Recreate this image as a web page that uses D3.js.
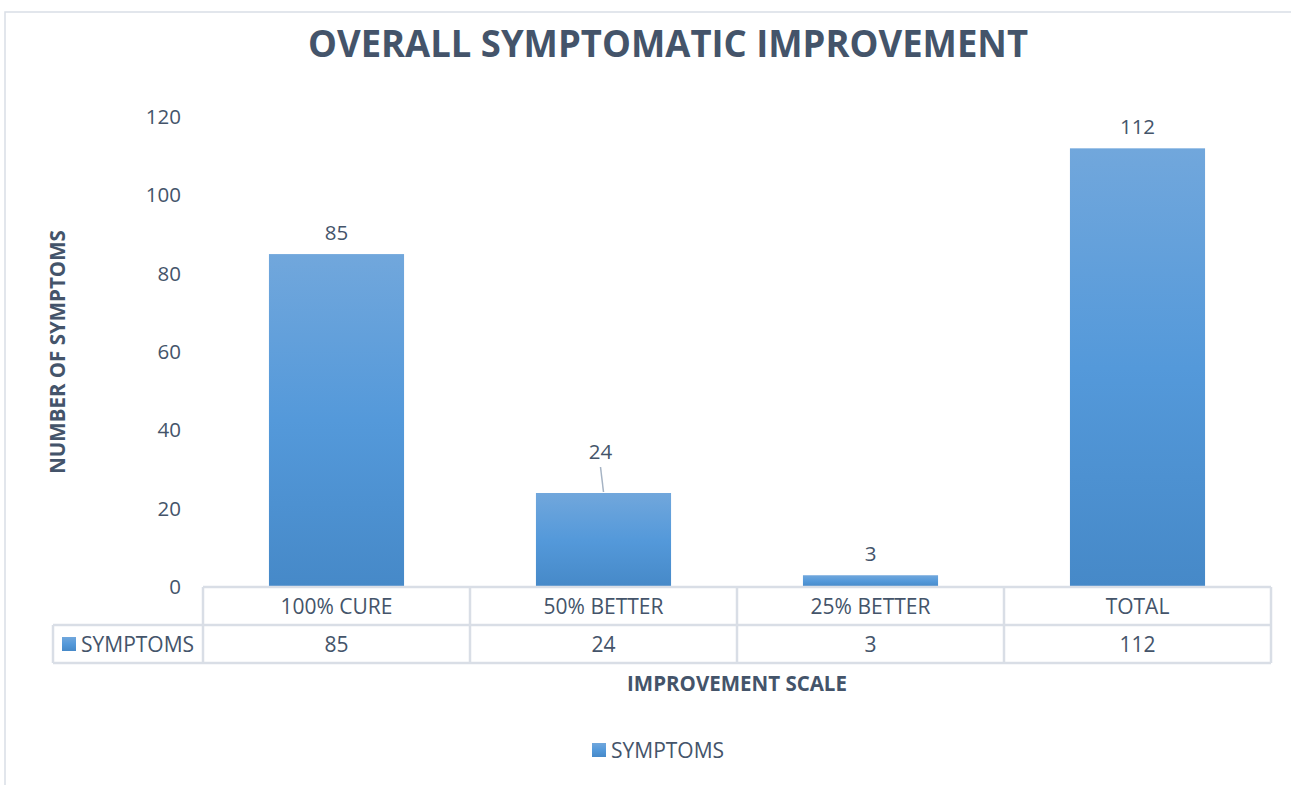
<!DOCTYPE html>
<html>
<head>
<meta charset="utf-8">
<script src="https://cdn.jsdelivr.net/npm/d3@7"></script>
<style>
  html, body { margin: 0; padding: 0; background: #fff; }
  svg text { font-family: "Open Sans", "Liberation Sans", sans-serif; fill: #44546a; }
</style>
</head>
<body>
<div class="container"></div>
<script>
const categories = ["100% CURE", "50% BETTER", "25% BETTER", "TOTAL"];
const symptoms = [85, 24, 3, 112];
const yTicks = [0, 20, 40, 60, 80, 100, 120];
const seriesName = "SYMPTOMS";
const chartTitle = "OVERALL SYMPTOMATIC IMPROVEMENT";
const xTitle = "IMPROVEMENT SCALE";
const yTitle = "NUMBER OF SYMPTOMS";

const w = 1291;
const h = 785;
const margin = { top: 117, left: 203, right: 20, bottom: 198 };
const width = w - margin.left - margin.right;
const height = h - margin.top - margin.bottom;
const rowH = 38;
const border = "#d9dee6";
const fs = 21;

const svg = d3.select(".container").append("svg")
  .attr("width", w)
  .attr("height", h);

const defs = svg.append("defs");
const grad = defs.append("linearGradient")
  .attr("id", "barGrad")
  .attr("x1", 0).attr("y1", 0).attr("x2", 0).attr("y2", 1);
grad.append("stop").attr("offset", "0%").attr("stop-color", "#71a7dc");
grad.append("stop").attr("offset", "50%").attr("stop-color", "#5499da");
grad.append("stop").attr("offset", "100%").attr("stop-color", "#4689c8");

// chart frame
svg.append("rect")
  .attr("x", 5).attr("y", 12)
  .attr("width", w + 10).attr("height", h + 10)
  .attr("fill", "none")
  .attr("stroke", border)
  .attr("stroke-width", 1.5);

svg.append("text")
  .attr("x", 668).attr("y", 57)
  .attr("text-anchor", "middle")
  .attr("font-size", 38)
  .attr("font-weight", 700)
  .attr("textLength", 720)
  .attr("lengthAdjust", "spacingAndGlyphs")
  .text(chartTitle);

const chart = svg.append("g")
  .attr("transform", `translate(${margin.left}, ${margin.top})`);

const x = d3.scaleBand()
  .domain(categories)
  .range([0, width])
  .paddingInner(0.494)
  .paddingOuter(0.247);

const xCol = d3.scaleBand()
  .domain(categories)
  .range([0, width]);

const y = d3.scaleLinear()
  .domain([0, 120])
  .range([height, 0]);

const yAxis = chart.append("g")
  .call(d3.axisLeft(y).tickValues(yTicks).tickSize(0).tickPadding(22));
yAxis.select(".domain").remove();
yAxis.selectAll("text")
  .attr("font-size", 20.5)
  .style("fill", "#44546a");

chart.selectAll("rect.bar")
  .data(symptoms)
  .enter().append("rect")
  .attr("class", "bar")
  .attr("x", (d, i) => x(categories[i]))
  .attr("y", d => y(d))
  .attr("width", x.bandwidth())
  .attr("height", d => height - y(d))
  .attr("fill", "url(#barGrad)");

// data labels (one lifted with a leader line)
const labelLift = { "50% BETTER": 20 };
symptoms.forEach((d, i) => {
  const cx = x(categories[i]) + x.bandwidth() / 2;
  const lift = labelLift[categories[i]] || 0;
  const ly = y(d) - 14 - lift;
  if (lift) {
    chart.append("line")
      .attr("x1", cx - 3).attr("y1", ly + 8)
      .attr("x2", cx).attr("y2", y(d) - 1)
      .attr("stroke", "#a5b3c4")
      .attr("stroke-width", 1.5);
  }
  chart.append("text")
    .attr("x", cx - (lift ? 3 : 0))
    .attr("y", ly)
    .attr("text-anchor", "middle")
    .attr("font-size", 20.5)
    .text(d);
});

// data table
const table = chart.append("g").attr("transform", `translate(0, ${height})`);
const keyLeft = -150;

table.append("line")
  .attr("x1", 0).attr("x2", width).attr("y1", 0).attr("y2", 0)
  .attr("stroke", border).attr("stroke-width", 2.5);
table.append("line")
  .attr("x1", keyLeft).attr("x2", width).attr("y1", rowH).attr("y2", rowH)
  .attr("stroke", border).attr("stroke-width", 2.5);
table.append("line")
  .attr("x1", keyLeft).attr("x2", width).attr("y1", rowH * 2).attr("y2", rowH * 2)
  .attr("stroke", border).attr("stroke-width", 2.5);
table.append("line")
  .attr("x1", keyLeft).attr("x2", keyLeft).attr("y1", rowH).attr("y2", rowH * 2)
  .attr("stroke", border).attr("stroke-width", 2.5);

const cols = categories.map(c => xCol(c)).concat([width]);
table.selectAll("line.col")
  .data(cols)
  .enter().append("line")
  .attr("class", "col")
  .attr("x1", d => d).attr("x2", d => d)
  .attr("y1", 0).attr("y2", rowH * 2)
  .attr("stroke", border).attr("stroke-width", 2.5);

table.selectAll("text.cat")
  .data(categories)
  .enter().append("text")
  .attr("class", "cat")
  .attr("x", d => xCol(d) + xCol.bandwidth() / 2)
  .attr("y", rowH / 2 + 7.5)
  .attr("text-anchor", "middle")
  .attr("font-size", fs)
  .text(d => d);

table.selectAll("text.val")
  .data(symptoms)
  .enter().append("text")
  .attr("class", "val")
  .attr("x", (d, i) => xCol(categories[i]) + xCol.bandwidth() / 2)
  .attr("y", rowH * 1.5 + 7.5)
  .attr("text-anchor", "middle")
  .attr("font-size", fs)
  .text(d => d);

table.append("rect")
  .attr("x", keyLeft + 9).attr("y", rowH * 1.5 - 7)
  .attr("width", 14).attr("height", 14)
  .attr("fill", "url(#barGrad)");
table.append("text")
  .attr("x", keyLeft + 28).attr("y", rowH * 1.5 + 7.5)
  .attr("font-size", fs)
  .text(seriesName);

// axis titles
svg.append("text")
  .attr("x", margin.left + width / 2)
  .attr("y", 691)
  .attr("text-anchor", "middle")
  .attr("font-size", 20.5)
  .attr("font-weight", 700)
  .text(xTitle);

svg.append("text")
  .attr("transform", `translate(65, ${margin.top + height / 2}) rotate(-90)`)
  .attr("text-anchor", "middle")
  .attr("font-size", 20.5)
  .attr("font-weight", 700)
  .text(yTitle);

// legend
const legend = svg.append("g").attr("transform", "translate(592, 743)");
legend.append("rect")
  .attr("width", 14).attr("height", 14)
  .attr("fill", "url(#barGrad)");
legend.append("text")
  .attr("x", 19).attr("y", 15)
  .attr("font-size", fs)
  .text(seriesName);
</script>
</body>
</html>
